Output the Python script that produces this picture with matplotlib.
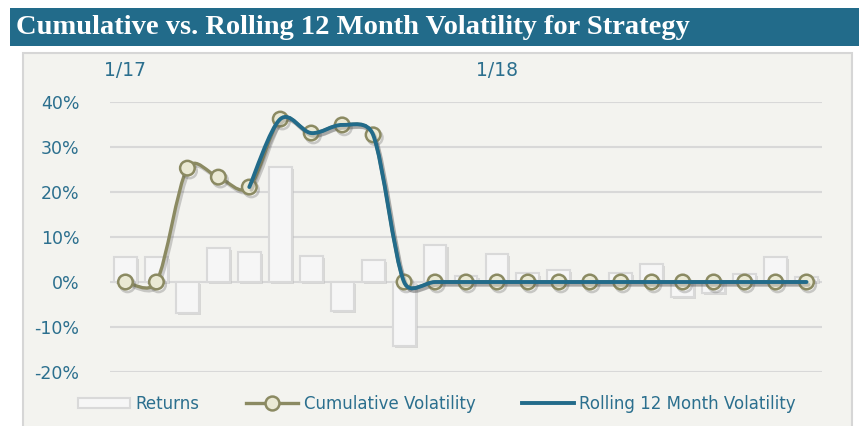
import numpy as np
import matplotlib
matplotlib.use("Agg")
import matplotlib.pyplot as plt
from matplotlib.path import Path
from matplotlib.patches import PathPatch, Rectangle, Patch
from matplotlib.lines import Line2D
import matplotlib.patheffects as pe

# monthly data, 1/17 .. 11/18
months = ["1/17", "2/17", "3/17", "4/17", "5/17", "6/17", "7/17", "8/17", "9/17", "10/17",
          "11/17", "12/17", "1/18", "2/18", "3/18", "4/18", "5/18", "6/18", "7/18", "8/18",
          "9/18", "10/18", "11/18"]
returns = [0.056, 0.056, -0.069, 0.075, 0.066, 0.255, 0.058, -0.065, 0.049, -0.142,
           0.082, 0.013, 0.062, 0.019, 0.027, 0.0, 0.020, 0.040, -0.034, -0.024,
           0.018, 0.056, 0.011]
cumulative_vol = [0.0, 0.0, 0.253, 0.233, 0.211, 0.362, 0.331, 0.349, 0.327, 0.0,
                  0.0, 0.0, 0.0, 0.0, 0.0, 0.0, 0.0, 0.0, 0.0, 0.0,
                  0.0, 0.0, 0.0]
rolling_vol = [np.nan, np.nan, np.nan, np.nan, 0.211, 0.362, 0.331, 0.349, 0.327, 0.0,
               0.0, 0.0, 0.0, 0.0, 0.0, 0.0, 0.0, 0.0, 0.0, 0.0,
               0.0, 0.0, 0.0]
top_labels = {0: "1/17", 12: "1/18"}
yticks = [-0.2, -0.1, 0.0, 0.1, 0.2, 0.3, 0.4]

TEAL = "#226b8a"
OLIVE = "#8b8a62"
TXT = "#2b6f8e"


def smooth_path(ax, x, y):
    # catmull-rom style beziers in screen space, with each handle capped at
    # half of its segment so short flat segments don't overshoot much
    pts = ax.transData.transform(np.column_stack([x, y]).astype(float))
    n = len(pts)

    def handle(v, seg_len):
        h = v / 6
        L = np.hypot(*h)
        cap = 0.5 * seg_len
        return h * (cap / L) if L > cap else h

    verts = [pts[0]]
    codes = [Path.MOVETO]
    for i in range(n - 1):
        a, b = pts[i], pts[i + 1]
        prev = pts[i - 1] if i > 0 else a
        nxt = pts[i + 2] if i + 2 < n else b
        seg = np.hypot(*(b - a))
        c1 = a + handle(b - prev, seg)
        c2 = b - handle(nxt - a, seg)
        verts += [c1, c2, b]
        codes += [Path.CURVE4] * 3
    verts = ax.transData.inverted().transform(np.array(verts))
    return Path(verts, codes)


W, H = 859, 426
fig = plt.figure(figsize=(W / 100, H / 100), dpi=100)
fig.patch.set_facecolor("white")

# title bar
fig.patches.append(Rectangle((10 / W, 1 - 46 / H), 1, 38 / H, transform=fig.transFigure,
                             facecolor=TEAL, edgecolor="none", zorder=0))
fig.text(16 / W, 1 - 27 / H, "Cumulative vs. Rolling 12 Month Volatility for Strategy",
         color="white", fontsize=20.5, fontweight="bold", family="Liberation Serif",
         va="center", ha="left")

# chart panel
fig.patches.append(Rectangle((23 / W, -0.05), 829 / W, 1 - 53 / H + 0.05, transform=fig.transFigure,
                             facecolor="#f3f3ef", edgecolor="#d6d6d6", lw=1.5, zorder=0))

ax = fig.add_axes([110 / W, 54 / H, 712 / W, 270 / H])
ax.set_zorder(2)
ax.set_facecolor("none")
x = np.arange(len(months))

ax.set_ylim(-0.2, 0.4)
ax.set_xlim(-0.5, len(months) - 0.5)
ax.set_yticks(yticks)
ax.set_yticklabels([f"{int(round(v * 100))}%" for v in yticks])
ax.yaxis.grid(True, color="#d8d8d8", lw=1.5)
ax.set_axisbelow(True)
for s in ax.spines.values():
    s.set_visible(False)
ax.tick_params(axis="y", length=0, pad=22, labelsize=12.5, labelcolor=TXT)

ax.set_xticks(list(top_labels.keys()))
ax.set_xticklabels(list(top_labels.values()))
ax.xaxis.tick_top()
ax.tick_params(axis="x", length=0, pad=16, labelsize=13.5, labelcolor=TXT)

bars = ax.bar(x, returns, width=0.74, color="#f6f6f6", edgecolor="#d9d9d9", lw=1.5, zorder=2)
for b in bars:
    b.set_path_effects([pe.SimplePatchShadow(offset=(1.5, -1.5), shadow_rgbFace="#bdbdbd", alpha=0.5),
                        pe.Normal()])

shadow = [pe.SimpleLineShadow(offset=(1.5, -2), shadow_color="#555555", alpha=0.28), pe.Normal()]

cum = PathPatch(smooth_path(ax, x, cumulative_vol), facecolor="none", edgecolor=OLIVE, lw=2.4,
                zorder=3, capstyle="round")
cum.set_path_effects(shadow)
ax.add_patch(cum)
ax.plot(x, cumulative_vol, ls="none", marker="o", ms=10.5, mfc="#eae9d4", mec=OLIVE, mew=1.8,
        zorder=4, clip_on=False, path_effects=shadow)

rv = np.array(rolling_vol)
ok = ~np.isnan(rv)
roll = PathPatch(smooth_path(ax, x[ok], rv[ok]), facecolor="none", edgecolor=TEAL, lw=2.8,
                 zorder=5, capstyle="round")
roll.set_path_effects(shadow)
ax.add_patch(roll)

handles = [
    Patch(facecolor="#f6f6f6", edgecolor="#d9d9d9", lw=1.5),
    Line2D([], [], color=OLIVE, lw=2.4, marker="o", ms=10, mfc="#eae9d4", mec=OLIVE, mew=1.8),
    Line2D([], [], color=TEAL, lw=2.8),
]
leg = fig.legend(handles, ["Returns", "Cumulative Volatility", "Rolling 12 Month Volatility"],
                 loc="center", bbox_to_anchor=(437 / W, 22 / H), ncol=3, frameon=False,
                 fontsize=12, handlelength=3.1, handleheight=0.6, columnspacing=2.8,
                 handletextpad=0.35, numpoints=1)
leg.set_zorder(3)
for t in leg.get_texts():
    t.set_color(TXT)

fig.savefig("out.png", dpi=100)
